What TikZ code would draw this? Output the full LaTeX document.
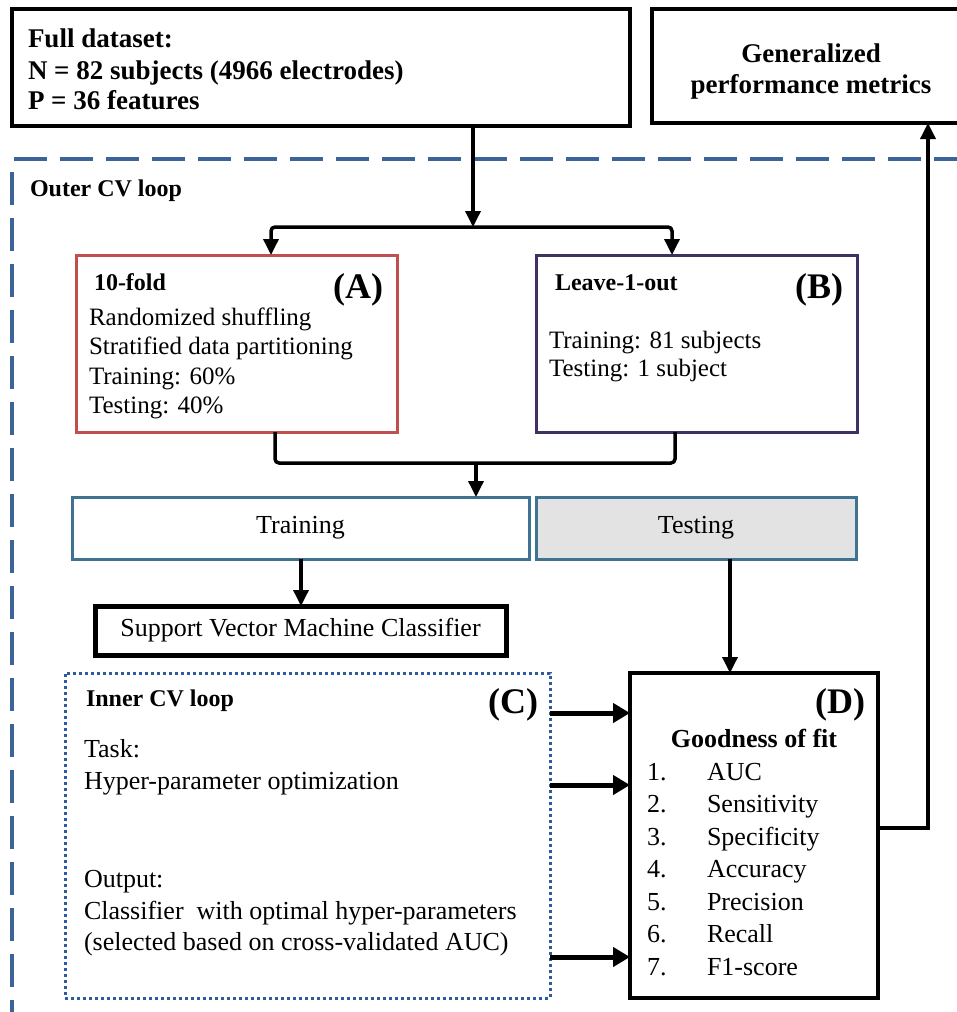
\documentclass[tikz,border=0pt]{standalone}
\usepackage{fontspec}
\setmainfont{Liberation Serif}
\usetikzlibrary{arrows.meta}
\definecolor{redA}{HTML}{C0504D}
\definecolor{purpB}{HTML}{3F3160}
\definecolor{tealT}{HTML}{3F7391}
\definecolor{outerblue}{HTML}{3D6499}
\definecolor{innerblue}{HTML}{2E5B9B}
\definecolor{grayfill}{HTML}{E3E3E3}
\begin{document}
\begin{tikzpicture}[x=1pt,y=-1pt,
  box/.style={draw, inner sep=0pt, outer sep=0pt},
  conn/.style={line width=3.5pt},
  arr/.style={conn, -{Triangle[length=16pt,width=15pt]}},
  bigarr/.style={line width=5pt, -{Triangle[length=17pt,width=19pt]}},
  txt/.style={font=\fontsize{26}{30}\selectfont, inner sep=0pt, outer sep=0pt},
  txtA/.style={font=\fontsize{25}{30}\selectfont, inner sep=0pt, outer sep=0pt},
  btxt/.style={font=\fontsize{27}{31}\selectfont\bfseries, inner sep=0pt, outer sep=0pt},
  stitle/.style={font=\fontsize{24}{28}\selectfont\bfseries, inner sep=0pt, outer sep=0pt},
  letter/.style={font=\fontsize{36}{40}\selectfont\bfseries, inner sep=0pt, outer sep=0pt, anchor=base east},
]
\useasboundingbox (0,0) rectangle (957,1012);

% outer CV loop frame
\draw[outerblue, line width=3.5pt, dash pattern=on 33pt off 13pt] (14,159) -- (962,159);
\draw[outerblue, line width=3.5pt, dash pattern=on 33pt off 13pt] (12,172) -- (12,1014);
\node[stitle, anchor=base west] (outerlbl) at (30,196) {Outer CV loop};

% top boxes
\node[box, line width=4.5pt, minimum width=618pt, minimum height=117pt] (data) at (321,67.5) {};
\node[btxt, anchor=base west] (d1) at (28,47) {Full dataset:};
\node[btxt, anchor=base west] (d2) at (28,79) {N = 82 subjects (4966 electrodes)};
\node[btxt, anchor=base west] (d3) at (28,109) {P = 36 features};

\node[box, line width=4.5pt, minimum width=310pt, minimum height=114pt] (gen) at (807,66) {};
\node[btxt, anchor=base] (g1) at (811,62) {Generalized};
\node[btxt, anchor=base] (g2) at (811,93) {performance metrics};

% A and B
\node[box, draw=redA, line width=3pt, minimum width=321pt, minimum height=177pt] (A) at (236.5,343.5) {};
\node[stitle, anchor=base west] (a0) at (94,290) {10-fold};
\node[letter] (Alab) at (383,298) {(A)};
\node[txtA, anchor=base west] (a1) at (89,325) {Randomized shuffling};
\node[txtA, anchor=base west] (a2) at (89,354.5) {Stratified data partitioning};
\node[txtA, anchor=base west] (a3) at (89,384) {Training: 60\%};
\node[txtA, anchor=base west] (a4) at (89,413.5) {Testing: 40\%};

\node[box, draw=purpB, line width=3pt, minimum width=321pt, minimum height=177pt] (B) at (697,343.5) {};
\node[stitle, anchor=base west] (b0) at (555,290) {Leave-1-out};
\node[letter] (Blab) at (843,298) {(B)};
\node[txtA, anchor=base west] (b1) at (549,348) {Training: 81 subjects};
\node[txtA, anchor=base west] (b2) at (549,376) {Testing: 1 subject};

% training / testing
\node[box, draw=tealT, line width=3pt, minimum width=457pt, minimum height=62pt, txt] (train) at (300.5,528) {Training};
\node[box, draw=tealT, fill=grayfill, line width=3pt, minimum width=320pt, minimum height=62pt, txt] (test) at (696,528) {Testing};

\node[box, line width=5pt, minimum width=411pt, minimum height=49pt, txt] (svm) at (300.5,630.5) {Support Vector Machine Classifier};

% C
\node[box, draw=innerblue, line width=3pt, dash pattern=on 3pt off 3pt, minimum width=485pt, minimum height=325pt] (C) at (307.5,835.5) {};
\node[stitle, anchor=base west] (c0) at (86,706) {Inner CV loop};
\node[letter] (Clab) at (538,713) {(C)};
\node[txt, anchor=base west] (c1) at (84,757) {Task:};
\node[txt, anchor=base west] (c2) at (84,789) {Hyper-parameter optimization};
\node[txt, anchor=base west] (c3) at (84,887) {Output:};
\node[txt, anchor=base west] (c4) at (84,919) {Classifier\ \ with optimal hyper-parameters};
\node[txt, anchor=base west] (c5) at (84,950) {(selected based on cross-validated AUC)};

% D
\node[box, line width=4.5pt, minimum width=248pt, minimum height=325pt] (D) at (754,835.5) {};
\node[letter] (Dlab) at (865,713) {(D)};
\node[font=\fontsize{26}{30}\selectfont\bfseries, inner sep=0pt, anchor=base] (gof) at (754,747) {Goodness of fit};
\foreach \i/\t [count=\k from 0] in {1/AUC,2/Sensitivity,3/Specificity,4/Accuracy,5/Precision,6/Recall,7/F1-score}{
  \node[txt, anchor=base west] (n\i) at (647,780+\k*32.5) {\i.};
  \node[txt, anchor=base west] (m\i) at (707,780+\k*32.5) {\t};
}

% connectors
\coordinate (split) at (473,227);
\coordinate (sA) at (271,227);
\coordinate (sB) at (672,227);
\draw[arr] (data.south -| split) -- (split);
\draw[arr, rounded corners=4pt] (split) -- (sA) -- (sA |- A.north);
\draw[arr, rounded corners=4pt] (split) -- (sB) -- (sB |- B.north);

\coordinate (mA) at (275,463);
\coordinate (mB) at (675,463);
\coordinate (mC) at (476,463);
\draw[conn, rounded corners=4pt] (mA |- A.south) -- (mA) -- (mB) -- (mB |- B.south);
\draw[arr] (mC) -- (mC |- train.north);

\coordinate (tr) at (301,559);
\draw[arr] (tr |- train.south) -- (tr |- svm.north);
\coordinate (te) at (730,559);
\draw[arr] (te |- test.south) -- (te |- D.north);

\coordinate (k1) at (550,713);
\coordinate (k2) at (550,785);
\coordinate (k3) at (550,957);
\draw[bigarr] (k1 -| C.east) -- (k1 -| D.west);
\draw[bigarr] (k2 -| C.east) -- (k2 -| D.west);
\draw[bigarr] (k3 -| C.east) -- (k3 -| D.west);

\coordinate (up) at (928,828);
\draw[arr] (up -| D.east) -- (up) -- (up |- gen.south);
\end{tikzpicture}
\end{document}
